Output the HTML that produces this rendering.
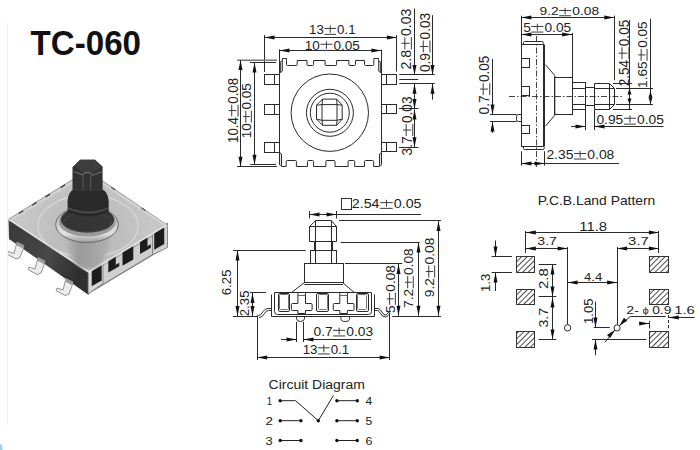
<!DOCTYPE html>
<html><head><meta charset="utf-8"><style>
html,body{margin:0;padding:0;background:#fff;}
svg{display:block;}
text{font-family:"Liberation Sans",sans-serif;}
</style></head><body>
<svg width="700" height="450" viewBox="0 0 700 450">
<rect width="700" height="450" fill="#fff"/>
<defs>
<linearGradient id="gTop" x1="0" y1="0" x2="0" y2="1">
 <stop offset="0" stop-color="#cdcdcd"/><stop offset="0.5" stop-color="#c2c2c2"/><stop offset="1" stop-color="#b9b9b9"/>
</linearGradient>
<linearGradient id="gLeft" x1="0" y1="0" x2="1" y2="0.3">
 <stop offset="0" stop-color="#3a3a3a"/><stop offset="0.6" stop-color="#474747"/><stop offset="1" stop-color="#2e2e2e"/>
</linearGradient>
<linearGradient id="gCyl" x1="0" y1="0" x2="1" y2="0">
 <stop offset="0" stop-color="#b4b4b4"/><stop offset="0.3" stop-color="#9a9a9a"/><stop offset="0.6" stop-color="#a2a2a2"/><stop offset="1" stop-color="#b0b0b0"/>
</linearGradient>
<linearGradient id="gRing" x1="0" y1="0" x2="0" y2="1">
 <stop offset="0" stop-color="#a8a8a8"/><stop offset="0.75" stop-color="#e2e2e2"/><stop offset="1" stop-color="#9a9a9a"/>
</linearGradient>
<radialGradient id="gTopR" cx="88" cy="235" r="90" gradientUnits="userSpaceOnUse">
 <stop offset="0" stop-color="#b4b4b4"/><stop offset="0.6" stop-color="#c4c4c4"/><stop offset="1" stop-color="#cbcbcb"/>
</radialGradient>
<filter id="soft" x="-5%" y="-5%" width="110%" height="110%"><feGaussianBlur stdDeviation="0.45"/></filter>
<filter id="soft2" x="-20%" y="-20%" width="140%" height="140%"><feGaussianBlur stdDeviation="1.5"/></filter>
</defs>
<g filter="url(#soft)">
<polygon points="8.5,219.2 88.7,272.0 88.7,295.0 9.0,239.0" fill="url(#gLeft)" stroke="none" stroke-width="1" />
<polygon points="88.7,272.0 167.0,224.9 167.0,247.0 88.7,293.0" fill="#cfcfcf" stroke="none" stroke-width="1" />
<polygon points="88.7,272.0 167.0,224.9 167.0,228.5 88.7,274.5" fill="#b0b0b0" stroke="none" stroke-width="1" />
<polygon points="115.3,265.0 119.3,262.7 119.3,266.2 115.3,268.5" fill="#1e1e1e" stroke="none" stroke-width="1" />
<polygon points="147.0,246.5 150.8,244.3 150.8,247.8 147.0,250.0" fill="#1e1e1e" stroke="none" stroke-width="1" />
<line x1="88.7" y1="293.2" x2="167" y2="246.1" stroke="#777" stroke-width="1.2"/>
<polygon points="88.2,270.0 103.0,260.7 103.0,283.2 88.2,294.0" fill="#d8d8d8" stroke="#777" stroke-width="0.8" />
<polygon points="152.5,231.8 167.5,223.1 167.5,247.5 152.5,254.8" fill="#d0d0d0" stroke="#777" stroke-width="0.8" />
<path d="M91.7,269.3 Q91.7,267.8 93.2,266.9 L100.2,262.8 Q101.7,261.9 101.7,263.4 L101.7,280.4 L91.7,286.3 Z" fill="#1e1e1e"/>
<path d="M108.3,260.6 Q108.3,259.1 109.8,258.2 L114.3,255.6 Q115.8,254.7 115.8,256.2 L115.8,268.2 L108.3,272.6 Z" fill="#1e1e1e"/>
<path d="M122.5,251.3 Q122.5,249.8 124.0,248.9 L131.8,244.4 Q133.3,243.5 133.3,245.0 L133.3,259.5 L122.5,265.8 Z" fill="#1e1e1e"/>
<path d="M140.0,242.1 Q140.0,240.6 141.5,239.7 L146.0,237.1 Q147.5,236.2 147.5,237.7 L147.5,249.7 L140.0,254.1 Z" fill="#1e1e1e"/>
<path d="M154.2,232.8 Q154.2,231.3 155.7,230.4 L162.7,226.4 Q164.2,225.5 164.2,227.0 L164.2,244.0 L154.2,249.8 Z" fill="#1e1e1e"/>
<polygon points="8.5,219.2 87.3,170.5 167.0,224.9 88.7,272.0" fill="url(#gTopR)" stroke="none" stroke-width="1" />
<polyline points="8.5,219.2 88.7,272 167,224.9" fill="none" stroke="#e6e6e6" stroke-width="1.6"/>
<polyline points="8.5,219.2 87.3,170.5 167,224.9" fill="none" stroke="#9a9a9a" stroke-width="1"/>
<polyline points="9.5,220.7 87.3,173.0" fill="none" stroke="#d2d2d2" stroke-width="2.2"/>
<polyline points="87.3,173.0 165.5,225.4" fill="none" stroke="#d4d4d4" stroke-width="2"/>
<line x1="18.7" y1="213.5" x2="23.2" y2="210.7" stroke="#3a3a3a" stroke-width="1.3"/>
<line x1="32.1" y1="205.2" x2="36.6" y2="202.4" stroke="#3a3a3a" stroke-width="1.3"/>
<line x1="45.5" y1="196.9" x2="50.0" y2="194.1" stroke="#3a3a3a" stroke-width="1.3"/>
<line x1="60.5" y1="187.7" x2="65.0" y2="184.9" stroke="#3a3a3a" stroke-width="1.3"/>
<line x1="111.2" y1="187.3" x2="115.2" y2="190.1" stroke="#555" stroke-width="1.2"/>
<line x1="141.5" y1="208.0" x2="145.5" y2="210.8" stroke="#555" stroke-width="1.2"/>
<ellipse cx="88" cy="226" rx="50" ry="31" fill="none" stroke="#d6d6d6" stroke-width="1.5"/>
<path d="M67,226 L67,246 Q70,258 78,266 Q88,272 98,266 Q106,258 109,246 L109,226 Z" fill="url(#gCyl)" filter="url(#soft2)"/>
<ellipse cx="87" cy="224.5" rx="31.3" ry="18" fill="url(#gRing)" stroke="#6a6a6a" stroke-width="1"/>
<ellipse cx="87.3" cy="222" rx="28.5" ry="14.5" fill="#9a9a9a"/>
<ellipse cx="87.5" cy="219.6" rx="26.7" ry="13" fill="#353535"/>
<ellipse cx="87.5" cy="222.5" rx="24" ry="9.5" fill="none" stroke="#4a4a4a" stroke-width="1.2" stroke-dasharray="1.5,1.5"/>
<path d="M67.6,212 L67.6,201 Q68.5,191 74,189.5 L102,189.5 Q107.5,191 108.7,201 L108.7,212 Q88,221 67.6,212 Z" fill="#2c2c2c"/>
<path d="M68,208 Q88,217 108.5,208" fill="none" stroke="#4e4e4e" stroke-width="1.5"/>
<path d="M72.5,191 L72.5,167 L74.6,165.3 L80.2,159.7 L94.9,159.7 L102.6,166.7 L102.6,191 Z" fill="#313131"/>
<path d="M74.6,165.3 L80.2,159.7 L94.9,159.7 L102.6,166.7 L92.1,174 L83,174 Z" fill="#3d3d3d"/>
<path d="M73.9,171.6 L83,175.1 L85.1,172.5 L89.3,172.5 L92.1,175.5 L102.6,171.5" fill="none" stroke="#777" stroke-width="1"/>
<path d="M83,175 L83,190 M90.7,175.5 L90.7,190" fill="none" stroke="#5a5a5a" stroke-width="1"/>
<path d="M17,242 l7,3.5 l-1,4 l-3,8 l-4,1.5 l-9,-5 l1,-2.5 l6,2 z" fill="#ececec" stroke="#7a7a7a" stroke-width="0.8"/>
<path d="M17,242 l7,3.5 l-1,3 l-7,-3.5 z" fill="#9a9a9a"/>
<path d="M38,257.5 l7,3.5 l-1,4 l-3,8 l-4,1.5 l-9,-5 l1,-2.5 l6,2 z" fill="#ececec" stroke="#7a7a7a" stroke-width="0.8"/>
<path d="M38,257.5 l7,3.5 l-1,3 l-7,-3.5 z" fill="#9a9a9a"/>
<path d="M66,278.5 l7,3.5 l-1,4 l-3,8 l-4,1.5 l-9,-5 l1,-2.5 l6,2 z" fill="#ececec" stroke="#7a7a7a" stroke-width="0.8"/>
<path d="M66,278.5 l7,3.5 l-1,3 l-7,-3.5 z" fill="#9a9a9a"/>
</g>
<g>
<ellipse cx="0" cy="449" rx="2.5" ry="5" fill="#9fd3ea"/>
<line x1="7.50" y1="22.00" x2="7.50" y2="425.00" stroke="#f6f4e8" stroke-width="1" />
<line x1="264.50" y1="37.50" x2="396.90" y2="37.50" stroke="#2a2a2a" stroke-width="1" />
<polygon points="264.50,37.50 274.50,35.50 274.50,39.50" fill="#111"/>
<polygon points="396.90,37.50 386.90,35.50 386.90,39.50" fill="#111"/>
<line x1="264.50" y1="35.00" x2="264.50" y2="72.00" stroke="#2a2a2a" stroke-width="1" />
<line x1="396.50" y1="35.00" x2="396.50" y2="71.50" stroke="#2a2a2a" stroke-width="1" />
<line x1="279.50" y1="50.50" x2="381.40" y2="50.50" stroke="#2a2a2a" stroke-width="1" />
<polygon points="279.50,50.50 289.50,48.50 289.50,52.50" fill="#111"/>
<polygon points="381.40,50.50 371.40,48.50 371.40,52.50" fill="#111"/>
<line x1="279.50" y1="49.30" x2="279.50" y2="62.00" stroke="#2a2a2a" stroke-width="1" />
<line x1="381.50" y1="49.60" x2="381.50" y2="62.00" stroke="#2a2a2a" stroke-width="1" />
<line x1="237.10" y1="60.20" x2="277.00" y2="60.20" stroke="#777" stroke-width="1.4" />
<line x1="250.00" y1="62.50" x2="276.00" y2="62.50" stroke="#2a2a2a" stroke-width="1" />
<line x1="237.10" y1="166.50" x2="277.00" y2="166.50" stroke="#2a2a2a" stroke-width="1" />
<line x1="250.30" y1="164.50" x2="276.00" y2="164.50" stroke="#2a2a2a" stroke-width="1" />
<line x1="240.50" y1="60.00" x2="240.50" y2="166.80" stroke="#2a2a2a" stroke-width="1" />
<polygon points="240.50,60.00 238.50,70.00 242.50,70.00" fill="#111"/>
<polygon points="240.50,166.80 238.50,156.80 242.50,156.80" fill="#111"/>
<line x1="254.50" y1="62.50" x2="254.50" y2="164.80" stroke="#2a2a2a" stroke-width="1" />
<polygon points="254.50,62.50 252.50,72.50 256.50,72.50" fill="#111"/>
<polygon points="254.50,164.80 252.50,154.80 256.50,154.80" fill="#111"/>
<rect x="264.50" y="74.50" width="15.00" height="10.00" rx="0" fill="none" stroke="#2a2a2a" stroke-width="1" />
<line x1="274.50" y1="74.50" x2="274.50" y2="84.50" stroke="#2a2a2a" stroke-width="1" />
<rect x="264.50" y="104.50" width="15.00" height="10.00" rx="0" fill="none" stroke="#2a2a2a" stroke-width="1" />
<line x1="274.50" y1="104.50" x2="274.50" y2="114.50" stroke="#2a2a2a" stroke-width="1" />
<rect x="264.50" y="142.50" width="15.00" height="10.00" rx="0" fill="none" stroke="#2a2a2a" stroke-width="1" />
<line x1="274.50" y1="142.50" x2="274.50" y2="152.50" stroke="#2a2a2a" stroke-width="1" />
<rect x="381.50" y="74.50" width="15.00" height="10.00" rx="0" fill="none" stroke="#2a2a2a" stroke-width="1" />
<line x1="386.50" y1="74.50" x2="386.50" y2="84.50" stroke="#2a2a2a" stroke-width="1" />
<rect x="381.50" y="104.50" width="15.00" height="9.00" rx="0" fill="none" stroke="#2a2a2a" stroke-width="1" />
<line x1="386.50" y1="104.50" x2="386.50" y2="113.50" stroke="#2a2a2a" stroke-width="1" />
<rect x="381.50" y="142.50" width="15.00" height="9.00" rx="0" fill="none" stroke="#2a2a2a" stroke-width="1" />
<line x1="386.50" y1="142.50" x2="386.50" y2="151.50" stroke="#2a2a2a" stroke-width="1" />
<line x1="279.50" y1="62.00" x2="279.50" y2="152.50" stroke="#2a2a2a" stroke-width="1" />
<line x1="381.50" y1="62.00" x2="381.50" y2="152.50" stroke="#2a2a2a" stroke-width="1" />
<path d="M280.3,72.5 L280.3,62.5 Q280.3,61.5 281.3,61.5 L282.3,61.5 L282.3,71.0 L280.3,73.0" fill="#e4e4e4" stroke="#2a2a2a" stroke-width="1" />
<path d="M282.3,61.5 L282.3,58.5 L286.5,58.5 L286.5,60.5" fill="none" stroke="#2a2a2a" stroke-width="1" />
<path d="M380.7,72.5 L380.7,62.5 Q380.7,61.5 379.7,61.5 L378.7,61.5 L378.7,71.0 L380.7,73.0" fill="#e4e4e4" stroke="#2a2a2a" stroke-width="1" />
<path d="M378.7,61.5 L378.7,58.5 L373.8,58.5 L373.8,60.5" fill="none" stroke="#2a2a2a" stroke-width="1" />
<path d="M279.5,152.5 L279.5,164.5 Q279.5,165.5 280.5,165.5 L281.5,165.5 L281.5,154.0 L279.5,152.5" fill="#e4e4e4" stroke="#2a2a2a" stroke-width="1" />
<path d="M281.5,165.5 L281.5,166.5 L286.2,166.5" fill="none" stroke="#2a2a2a" stroke-width="1" />
<path d="M381.5,152.5 L381.5,164.5 Q381.5,165.5 380.5,165.5 L379.5,165.5 L379.5,154.0 L381.5,152.5" fill="#e4e4e4" stroke="#2a2a2a" stroke-width="1" />
<path d="M379.5,165.5 L379.5,166.5 L373.6,166.5" fill="none" stroke="#2a2a2a" stroke-width="1" />
<path d="M286.5,60.5 L286.5,60.5 L286.5,64.5 Q286.5,65.5 287.5,65.5 L296.2,65.5 Q297.2,65.5 297.2,64.5 L297.2,60.5 L307.0,60.5 L307.0,64.5 Q307.0,65.5 308.0,65.5 L312.6,65.5 Q313.6,65.5 313.6,64.5 L313.6,60.5 L325.1,60.5 L325.1,64.5 Q325.1,65.5 326.1,65.5 L335.6,65.5 Q336.6,65.5 336.6,64.5 L336.6,60.5 L348.9,60.5 L348.9,64.5 Q348.9,65.5 349.9,65.5 L354.5,65.5 Q355.5,65.5 355.5,64.5 L355.5,60.5 L364.5,60.5 L364.5,64.5 Q364.5,65.5 365.5,65.5 L372.8,65.5 Q373.8,65.5 373.8,64.5 L373.8,60.5 L373.8,60.5" fill="none" stroke="#2a2a2a" stroke-width="1" />
<path d="M286.2,166.5 L286.2,166.5 L286.2,161.5 Q286.2,160.5 287.2,160.5 L295.4,160.5 Q296.4,160.5 296.4,161.5 L296.4,166.5 L307.5,166.5 L307.5,161.5 Q307.5,160.5 308.5,160.5 L312.6,160.5 Q313.6,160.5 313.6,161.5 L313.6,166.5 L325.9,166.5 L325.9,161.5 Q325.9,160.5 326.9,160.5 L334.0,160.5 Q335.0,160.5 335.0,161.5 L335.0,166.5 L348.1,166.5 L348.1,161.5 Q348.1,160.5 349.1,160.5 L353.7,160.5 Q354.7,160.5 354.7,161.5 L354.7,166.5 L364.5,166.5 L364.5,161.5 Q364.5,160.5 365.5,160.5 L372.6,160.5 Q373.6,160.5 373.6,161.5 L373.6,166.5 L373.6,166.5" fill="none" stroke="#2a2a2a" stroke-width="1" />
<circle cx="329.80" cy="112.70" r="38.70" fill="none" stroke="#2a2a2a" stroke-width="1"/>
<circle cx="329.90" cy="112.80" r="23.50" fill="none" stroke="#2a2a2a" stroke-width="1"/>
<circle cx="329.80" cy="112.70" r="19.50" fill="none" stroke="#2a2a2a" stroke-width="1"/>
<polygon points="322.6,99.1 336.7,99.1 342.2,105.2 342.2,119.2 336.7,125.3 322.6,125.3 316.5,119.2 316.5,105.2" fill="none" stroke="#2a2a2a" stroke-width="1"/>
<polygon points="322.0,104.6 337.0,104.6 337.0,120.3 322.0,120.3" fill="none" stroke="#2a2a2a" stroke-width="1"/>
<line x1="322.60" y1="99.10" x2="322.00" y2="104.60" stroke="#2a2a2a" stroke-width="1" />
<line x1="336.70" y1="99.10" x2="337.00" y2="104.60" stroke="#2a2a2a" stroke-width="1" />
<line x1="342.20" y1="105.20" x2="337.00" y2="104.60" stroke="#2a2a2a" stroke-width="1" />
<line x1="342.20" y1="119.20" x2="337.00" y2="120.30" stroke="#2a2a2a" stroke-width="1" />
<line x1="336.70" y1="125.30" x2="337.00" y2="120.30" stroke="#2a2a2a" stroke-width="1" />
<line x1="322.60" y1="125.30" x2="322.00" y2="120.30" stroke="#2a2a2a" stroke-width="1" />
<line x1="316.50" y1="119.20" x2="322.00" y2="120.30" stroke="#2a2a2a" stroke-width="1" />
<line x1="316.50" y1="105.20" x2="322.00" y2="104.60" stroke="#2a2a2a" stroke-width="1" />
<line x1="399.30" y1="74.50" x2="434.70" y2="74.50" stroke="#2a2a2a" stroke-width="1" />
<line x1="399.30" y1="79.50" x2="418.20" y2="79.50" stroke="#2a2a2a" stroke-width="1" />
<line x1="399.30" y1="83.50" x2="434.70" y2="83.50" stroke="#2a2a2a" stroke-width="1" />
<line x1="399.00" y1="108.50" x2="418.50" y2="108.50" stroke="#2a2a2a" stroke-width="1" />
<line x1="399.00" y1="147.50" x2="418.50" y2="147.50" stroke="#2a2a2a" stroke-width="1" />
<line x1="414.50" y1="8.70" x2="414.50" y2="74.90" stroke="#2a2a2a" stroke-width="1" />
<polygon points="414.50,74.90 412.50,64.90 416.50,64.90" fill="#111"/>
<line x1="414.50" y1="83.70" x2="414.50" y2="108.90" stroke="#2a2a2a" stroke-width="1" />
<polygon points="414.50,83.70 412.50,93.70 416.50,93.70" fill="#111"/>
<polygon points="414.50,108.90 412.50,98.90 416.50,98.90" fill="#111"/>
<line x1="414.50" y1="109.40" x2="414.50" y2="147.20" stroke="#2a2a2a" stroke-width="1" />
<polygon points="414.50,109.40 412.50,119.40 416.50,119.40" fill="#111"/>
<polygon points="414.50,147.20 412.50,137.20 416.50,137.20" fill="#111"/>
<line x1="432.50" y1="15.20" x2="432.50" y2="74.90" stroke="#2a2a2a" stroke-width="1" />
<polygon points="432.50,74.90 430.50,64.90 434.50,64.90" fill="#111"/>
<line x1="432.50" y1="83.70" x2="432.50" y2="99.70" stroke="#2a2a2a" stroke-width="1" />
<polygon points="432.50,83.70 430.50,93.70 434.50,93.70" fill="#111"/>
<line x1="521.40" y1="17.50" x2="614.30" y2="17.50" stroke="#2a2a2a" stroke-width="1" />
<polygon points="521.40,17.50 531.40,15.50 531.40,19.50" fill="#111"/>
<polygon points="614.30,17.50 604.30,15.50 604.30,19.50" fill="#111"/>
<line x1="521.50" y1="15.70" x2="521.50" y2="44.00" stroke="#2a2a2a" stroke-width="1" />
<line x1="614.50" y1="15.60" x2="614.50" y2="80.20" stroke="#2a2a2a" stroke-width="1" />
<line x1="521.40" y1="34.50" x2="572.10" y2="34.50" stroke="#2a2a2a" stroke-width="1" />
<polygon points="521.40,34.50 531.40,32.50 531.40,36.50" fill="#111"/>
<polygon points="572.10,34.50 562.10,32.50 562.10,36.50" fill="#111"/>
<line x1="572.50" y1="33.00" x2="572.50" y2="77.50" stroke="#2a2a2a" stroke-width="1" />
<line x1="536.50" y1="36.00" x2="536.50" y2="167.00" stroke="#444" stroke-width="1" stroke-dasharray="6,2,1.5,2"/>
<line x1="509.00" y1="96.50" x2="622.00" y2="96.50" stroke="#444" stroke-width="1" stroke-dasharray="6,2,1.5,2"/>
<rect x="521.50" y="44.50" width="22.00" height="102.00" rx="0" fill="none" stroke="#2a2a2a" stroke-width="1" />
<path d="M523.5,44.5 L523.5,42.5 Q523.5,41.5 524.5,41.5 L541.5,41.5 Q543.5,41.5 543.5,43.5" fill="none" stroke="#2a2a2a" stroke-width="1" />
<path d="M523.5,146.5 L523.5,148.5 Q523.5,149.5 524.5,149.5 L542.5,149.5 Q544.5,149.5 544.5,147.5" fill="none" stroke="#2a2a2a" stroke-width="1" />
<line x1="544.50" y1="44.50" x2="544.50" y2="146.50" stroke="#2a2a2a" stroke-width="1" />
<rect x="521.50" y="58.50" width="8.00" height="9.00" rx="0" fill="none" stroke="#2a2a2a" stroke-width="1" />
<rect x="521.50" y="86.50" width="8.00" height="9.00" rx="0" fill="none" stroke="#2a2a2a" stroke-width="1" />
<rect x="521.50" y="125.50" width="8.00" height="8.00" rx="0" fill="none" stroke="#2a2a2a" stroke-width="1" />
<path d="M521.5,114.5 L518.5,114.5 Q516.5,114.5 516.5,116.5 L516.5,119.5 Q516.5,121.5 518.5,121.5 L521.5,121.5" fill="none" stroke="#2a2a2a" stroke-width="1" />
<path d="M545.5,64.7 L554.8,75.6 L554.8,115.3 L545.5,126.1" fill="none" stroke="#2a2a2a" stroke-width="1" />
<rect x="554.50" y="77.50" width="18.00" height="37.00" rx="0" fill="none" stroke="#2a2a2a" stroke-width="1" />
<rect x="572.50" y="82.50" width="13.00" height="27.00" rx="0" fill="none" stroke="#2a2a2a" stroke-width="1" />
<line x1="572.40" y1="88.50" x2="585.60" y2="88.50" stroke="#2a2a2a" stroke-width="1" />
<line x1="572.40" y1="104.50" x2="585.60" y2="104.50" stroke="#2a2a2a" stroke-width="1" />
<rect x="585.50" y="87.50" width="9.00" height="18.00" rx="0" fill="none" stroke="#2a2a2a" stroke-width="1" />
<path d="M594.5,83.5 L609.5,83.5 L614.5,88.5 L614.5,104.5 L609.5,109.5 L594.5,109.5 Z" fill="none" stroke="#2a2a2a" stroke-width="1" />
<line x1="609.50" y1="83.50" x2="609.50" y2="109.50" stroke="#2a2a2a" stroke-width="1" />
<line x1="594.20" y1="88.50" x2="614.30" y2="88.50" stroke="#2a2a2a" stroke-width="1" />
<line x1="594.20" y1="104.50" x2="614.30" y2="104.50" stroke="#2a2a2a" stroke-width="1" />
<line x1="490.00" y1="114.50" x2="516.50" y2="114.50" stroke="#2a2a2a" stroke-width="1" />
<line x1="490.00" y1="121.50" x2="516.50" y2="121.50" stroke="#2a2a2a" stroke-width="1" />
<line x1="492.50" y1="59.00" x2="492.50" y2="114.40" stroke="#2a2a2a" stroke-width="1" />
<polygon points="492.50,114.50 490.50,104.50 494.50,104.50" fill="#111"/>
<line x1="492.50" y1="121.60" x2="492.50" y2="133.00" stroke="#2a2a2a" stroke-width="1" />
<polygon points="492.50,121.50 490.50,131.50 494.50,131.50" fill="#111"/>
<line x1="585.50" y1="110.00" x2="585.50" y2="130.00" stroke="#2a2a2a" stroke-width="1" />
<line x1="594.50" y1="110.00" x2="594.50" y2="130.00" stroke="#2a2a2a" stroke-width="1" />
<line x1="571.00" y1="126.50" x2="585.60" y2="126.50" stroke="#2a2a2a" stroke-width="1" />
<polygon points="585.50,126.50 575.50,124.50 575.50,128.50" fill="#111"/>
<line x1="594.20" y1="126.50" x2="663.50" y2="126.50" stroke="#2a2a2a" stroke-width="1" />
<polygon points="594.50,126.50 604.50,124.50 604.50,128.50" fill="#111"/>
<line x1="521.50" y1="151.30" x2="521.50" y2="165.70" stroke="#2a2a2a" stroke-width="1" />
<line x1="544.50" y1="151.30" x2="544.50" y2="165.70" stroke="#2a2a2a" stroke-width="1" />
<line x1="521.70" y1="163.50" x2="619.00" y2="163.50" stroke="#2a2a2a" stroke-width="1" />
<polygon points="521.50,163.50 531.50,161.50 531.50,165.50" fill="#111"/>
<polygon points="544.50,163.50 534.50,161.50 534.50,165.50" fill="#111"/>
<line x1="613.00" y1="83.50" x2="632.10" y2="83.50" stroke="#2a2a2a" stroke-width="1" />
<line x1="616.10" y1="88.50" x2="653.00" y2="88.50" stroke="#2a2a2a" stroke-width="1" />
<line x1="616.10" y1="104.50" x2="653.00" y2="104.50" stroke="#2a2a2a" stroke-width="1" />
<line x1="613.00" y1="109.50" x2="632.10" y2="109.50" stroke="#2a2a2a" stroke-width="1" />
<line x1="629.50" y1="20.00" x2="629.50" y2="109.20" stroke="#2a2a2a" stroke-width="1" />
<polygon points="629.50,88.60 627.50,94.60 631.50,94.60" fill="#111"/>
<polygon points="629.50,104.40 627.50,98.40 631.50,98.40" fill="#111"/>
<line x1="650.50" y1="18.70" x2="650.50" y2="104.20" stroke="#2a2a2a" stroke-width="1" />
<polygon points="650.50,91.50 648.50,97.50 652.50,97.50" fill="#111"/>
<polygon points="650.50,103.50 648.50,97.50 652.50,97.50" fill="#111"/>
<rect x="341.50" y="198.50" width="10.00" height="11.00" rx="0" fill="none" stroke="#333" stroke-width="1" />
<line x1="309.60" y1="214.50" x2="421.00" y2="214.50" stroke="#2a2a2a" stroke-width="1" />
<polygon points="309.50,214.50 319.50,212.50 319.50,216.50" fill="#111"/>
<polygon points="336.50,214.50 326.50,212.50 326.50,216.50" fill="#111"/>
<line x1="309.50" y1="211.00" x2="309.50" y2="218.50" stroke="#2a2a2a" stroke-width="1" />
<line x1="336.50" y1="211.00" x2="336.50" y2="218.50" stroke="#2a2a2a" stroke-width="1" />
<path d="M315.7,220.5 L331.3,220.5 L336.5,226.5 L336.5,241.5 L309.5,241.5 L309.5,226.5 Z" fill="none" stroke="#2a2a2a" stroke-width="1" />
<line x1="309.60" y1="226.50" x2="336.70" y2="226.50" stroke="#2a2a2a" stroke-width="1" />
<line x1="315.50" y1="220.50" x2="315.50" y2="263.30" stroke="#2a2a2a" stroke-width="1" />
<line x1="331.50" y1="220.50" x2="331.50" y2="263.30" stroke="#2a2a2a" stroke-width="1" />
<rect x="314.50" y="241.50" width="18.00" height="9.00" rx="0" fill="none" stroke="#2a2a2a" stroke-width="1" />
<rect x="310.50" y="250.50" width="26.00" height="13.00" rx="0" fill="none" stroke="#2a2a2a" stroke-width="1" />
<rect x="304.50" y="263.50" width="39.00" height="19.00" rx="0" fill="none" stroke="#2a2a2a" stroke-width="1" />
<line x1="304.40" y1="284.50" x2="343.00" y2="284.50" stroke="#2a2a2a" stroke-width="1" />
<path d="M304.5,282.5 L291.5,292.5" fill="none" stroke="#2a2a2a" stroke-width="1" />
<path d="M342.5,282.5 L354.3,292.5" fill="none" stroke="#2a2a2a" stroke-width="1" />
<line x1="274.50" y1="292.50" x2="371.20" y2="292.50" stroke="#2a2a2a" stroke-width="1" />
<path d="M274.5,292.5 L274.5,311.5 Q274.5,314.5 277.5,314.5 L368.5,314.5 Q371.5,314.5 371.5,311.5 L371.5,292.5" fill="none" stroke="#2a2a2a" stroke-width="1" />
<path d="M271.5,294.5 L271.5,316.5 L374.5,316.5 L374.5,294.5" fill="none" stroke="#2a2a2a" stroke-width="1" />
<rect x="278.50" y="293.50" width="11.00" height="18.00" rx="1.5" fill="none" stroke="#2a2a2a" stroke-width="1" />
<rect x="279.50" y="294.50" width="9.00" height="15.00" rx="1" fill="none" stroke="#777" stroke-width="1" />
<rect x="316.50" y="293.50" width="12.00" height="18.00" rx="1.5" fill="none" stroke="#2a2a2a" stroke-width="1" />
<rect x="318.50" y="294.50" width="9.00" height="15.00" rx="1" fill="none" stroke="#777" stroke-width="1" />
<rect x="356.50" y="293.50" width="12.00" height="18.00" rx="1.5" fill="none" stroke="#2a2a2a" stroke-width="1" />
<rect x="357.50" y="294.50" width="9.00" height="15.00" rx="1" fill="none" stroke="#777" stroke-width="1" />
<path d="M297.9,292.5 L297.9,303.5 L292.4,303.5 Q291.4,303.5 291.4,304.5 L291.4,309.5 Q291.4,310.5 292.4,310.5 L297.9,310.5 L297.9,313.5 L305.5,313.5 L305.5,310.5 L311.1,310.5 Q312.1,310.5 312.1,309.5 L312.1,304.5 Q312.1,303.5 311.1,303.5 L305.5,303.5 L305.5,292.5" fill="none" stroke="#2a2a2a" stroke-width="1" />
<line x1="297.90" y1="295.50" x2="305.50" y2="295.50" stroke="#666" stroke-width="1" />
<path d="M339.8,292.5 L339.8,303.5 L334.3,303.5 Q333.3,303.5 333.3,304.5 L333.3,309.5 Q333.3,310.5 334.3,310.5 L339.8,310.5 L339.8,313.5 L347.4,313.5 L347.4,310.5 L353.0,310.5 Q354.0,310.5 354.0,309.5 L354.0,304.5 Q354.0,303.5 353.0,303.5 L347.4,303.5 L347.4,292.5" fill="none" stroke="#2a2a2a" stroke-width="1" />
<line x1="339.80" y1="295.50" x2="347.40" y2="295.50" stroke="#666" stroke-width="1" />
<path d="M296.5,316.5 L296.5,318.5 Q296.5,321.5 300.5,321.5 Q304.5,321.5 304.5,318.5 L304.5,316.5" fill="none" stroke="#2a2a2a" stroke-width="1" />
<path d="M340.9,316.5 L340.9,318.5 Q340.9,321.5 345.2,321.5 Q349.5,321.5 349.5,318.5 L349.5,316.5" fill="none" stroke="#2a2a2a" stroke-width="1" />
<path d="M271.5,308.5 L268,308.5 Q265,308.5 263,311.5 Q261,315.5 258.5,315.5 L257,316" fill="none" stroke="#2a2a2a" stroke-width="1" />
<path d="M271.5,310.5 L268.5,310.5 Q266,310.5 264.5,313.5 Q262.5,317.5 259,317.5" fill="none" stroke="#2a2a2a" stroke-width="1" />
<path d="M374.5,308.5 L378,308.5 Q380,308.5 382,312 Q384,316 386,315 Q388,313 389.5,311.5" fill="none" stroke="#2a2a2a" stroke-width="1" />
<path d="M374.5,310.5 L377.5,310.5 Q379,310.5 380.5,313.5 Q382.5,317.5 386,317 Q388.5,315.5 390,313.5" fill="none" stroke="#2a2a2a" stroke-width="1" />
<line x1="339.00" y1="220.50" x2="441.00" y2="220.50" stroke="#2a2a2a" stroke-width="1" />
<line x1="340.70" y1="242.50" x2="419.70" y2="242.50" stroke="#2a2a2a" stroke-width="1" />
<line x1="345.00" y1="263.50" x2="402.30" y2="263.50" stroke="#2a2a2a" stroke-width="1" />
<line x1="392.20" y1="316.50" x2="441.00" y2="316.50" stroke="#2a2a2a" stroke-width="1" />
<line x1="398.50" y1="264.00" x2="398.50" y2="315.80" stroke="#2a2a2a" stroke-width="1" />
<polygon points="398.50,264.00 396.50,274.00 400.50,274.00" fill="#111"/>
<polygon points="398.50,315.80 396.50,305.80 400.50,305.80" fill="#111"/>
<line x1="418.50" y1="242.50" x2="418.50" y2="315.80" stroke="#2a2a2a" stroke-width="1" />
<polygon points="418.50,242.50 416.50,252.50 420.50,252.50" fill="#111"/>
<polygon points="418.50,315.80 416.50,305.80 420.50,305.80" fill="#111"/>
<line x1="438.50" y1="221.00" x2="438.50" y2="315.80" stroke="#2a2a2a" stroke-width="1" />
<polygon points="438.50,221.00 436.50,231.00 440.50,231.00" fill="#111"/>
<polygon points="438.50,315.80 436.50,305.80 440.50,305.80" fill="#111"/>
<line x1="233.00" y1="250.50" x2="305.70" y2="250.50" stroke="#2a2a2a" stroke-width="1" />
<line x1="250.00" y1="292.50" x2="266.00" y2="292.50" stroke="#2a2a2a" stroke-width="1" />
<line x1="233.00" y1="316.50" x2="258.00" y2="316.50" stroke="#2a2a2a" stroke-width="1" />
<line x1="237.50" y1="250.50" x2="237.50" y2="316.00" stroke="#2a2a2a" stroke-width="1" />
<polygon points="237.50,250.50 235.50,260.50 239.50,260.50" fill="#111"/>
<polygon points="237.50,316.00 235.50,306.00 239.50,306.00" fill="#111"/>
<line x1="252.50" y1="292.90" x2="252.50" y2="316.00" stroke="#2a2a2a" stroke-width="1" />
<polygon points="252.50,292.90 250.50,302.90 254.50,302.90" fill="#111"/>
<polygon points="252.50,316.00 250.50,306.00 254.50,306.00" fill="#111"/>
<line x1="257.50" y1="316.00" x2="257.50" y2="360.00" stroke="#2a2a2a" stroke-width="1" />
<line x1="389.50" y1="312.50" x2="389.50" y2="360.00" stroke="#2a2a2a" stroke-width="1" />
<line x1="257.20" y1="357.50" x2="389.70" y2="357.50" stroke="#2a2a2a" stroke-width="1" />
<polygon points="257.20,357.50 267.20,355.50 267.20,359.50" fill="#111"/>
<polygon points="389.70,357.50 379.70,355.50 379.70,359.50" fill="#111"/>
<line x1="296.50" y1="322.00" x2="296.50" y2="342.00" stroke="#2a2a2a" stroke-width="1" />
<line x1="303.50" y1="322.00" x2="303.50" y2="342.00" stroke="#2a2a2a" stroke-width="1" />
<line x1="281.00" y1="339.50" x2="296.70" y2="339.50" stroke="#2a2a2a" stroke-width="1" />
<polygon points="296.50,339.50 286.50,337.50 286.50,341.50" fill="#111"/>
<line x1="303.10" y1="339.50" x2="371.00" y2="339.50" stroke="#2a2a2a" stroke-width="1" />
<polygon points="303.50,339.50 313.50,337.50 313.50,341.50" fill="#111"/>
<line x1="525.80" y1="232.50" x2="658.90" y2="232.50" stroke="#2a2a2a" stroke-width="1" />
<polygon points="525.80,232.50 535.80,230.50 535.80,234.50" fill="#111"/>
<polygon points="658.90,232.50 648.90,230.50 648.90,234.50" fill="#111"/>
<line x1="525.50" y1="231.00" x2="525.50" y2="253.00" stroke="#2a2a2a" stroke-width="1" />
<line x1="658.50" y1="231.00" x2="658.50" y2="253.00" stroke="#2a2a2a" stroke-width="1" />
<line x1="525.80" y1="248.50" x2="567.60" y2="248.50" stroke="#2a2a2a" stroke-width="1" />
<polygon points="525.80,248.50 535.80,246.50 535.80,250.50" fill="#111"/>
<polygon points="567.60,248.50 557.60,246.50 557.60,250.50" fill="#111"/>
<line x1="617.10" y1="248.50" x2="658.90" y2="248.50" stroke="#2a2a2a" stroke-width="1" />
<polygon points="617.10,248.50 627.10,246.50 627.10,250.50" fill="#111"/>
<polygon points="658.90,248.50 648.90,246.50 648.90,250.50" fill="#111"/>
<line x1="567.50" y1="247.00" x2="567.50" y2="324.40" stroke="#2a2a2a" stroke-width="1" />
<line x1="617.50" y1="247.00" x2="617.50" y2="324.80" stroke="#2a2a2a" stroke-width="1" />
<defs><pattern id="hatch" patternUnits="userSpaceOnUse" width="3.9" height="3.9" patternTransform="rotate(45)"><rect width="3.9" height="3.9" fill="#fff"/><line x1="0.5" y1="0" x2="0.5" y2="3.9" stroke="#4a4a4a" stroke-width="1"/></pattern></defs>
<rect x="516.50" y="256.50" width="18.00" height="16.00" rx="0" fill="url(#hatch)" stroke="#333" stroke-width="1" />
<rect x="516.50" y="289.50" width="18.00" height="15.00" rx="0" fill="url(#hatch)" stroke="#333" stroke-width="1" />
<rect x="516.50" y="331.50" width="18.00" height="16.00" rx="0" fill="url(#hatch)" stroke="#333" stroke-width="1" />
<rect x="649.50" y="256.50" width="19.00" height="16.00" rx="0" fill="url(#hatch)" stroke="#333" stroke-width="1" />
<rect x="649.50" y="289.50" width="19.00" height="15.00" rx="0" fill="url(#hatch)" stroke="#333" stroke-width="1" />
<rect x="649.50" y="331.50" width="19.00" height="16.00" rx="0" fill="url(#hatch)" stroke="#333" stroke-width="1" />
<line x1="491.60" y1="256.50" x2="512.00" y2="256.50" stroke="#2a2a2a" stroke-width="1" />
<line x1="491.60" y1="272.50" x2="512.00" y2="272.50" stroke="#2a2a2a" stroke-width="1" />
<line x1="495.50" y1="240.40" x2="495.50" y2="256.40" stroke="#2a2a2a" stroke-width="1" />
<polygon points="495.50,256.50 493.50,246.50 497.50,246.50" fill="#111"/>
<line x1="495.50" y1="272.40" x2="495.50" y2="291.00" stroke="#2a2a2a" stroke-width="1" />
<polygon points="495.50,272.50 493.50,282.50 497.50,282.50" fill="#111"/>
<line x1="538.60" y1="264.50" x2="556.40" y2="264.50" stroke="#2a2a2a" stroke-width="1" />
<line x1="538.60" y1="296.50" x2="556.40" y2="296.50" stroke="#2a2a2a" stroke-width="1" />
<line x1="538.60" y1="339.50" x2="556.40" y2="339.50" stroke="#2a2a2a" stroke-width="1" />
<line x1="552.50" y1="264.10" x2="552.50" y2="339.00" stroke="#2a2a2a" stroke-width="1" />
<polygon points="552.50,264.50 550.50,274.50 554.50,274.50" fill="#111"/>
<polygon points="552.50,296.50 550.50,286.50 554.50,286.50" fill="#111"/>
<polygon points="552.50,297.50 550.50,307.50 554.50,307.50" fill="#111"/>
<polygon points="552.50,339.50 550.50,329.50 554.50,329.50" fill="#111"/>
<line x1="567.60" y1="282.50" x2="617.10" y2="282.50" stroke="#2a2a2a" stroke-width="1" />
<polygon points="567.60,282.50 577.60,280.50 577.60,284.50" fill="#111"/>
<polygon points="617.10,282.50 607.10,280.50 607.10,284.50" fill="#111"/>
<circle cx="567.60" cy="327.80" r="3.20" fill="#fff" stroke="#2a2a2a" stroke-width="1"/>
<circle cx="617.10" cy="327.90" r="3.10" fill="#fff" stroke="#2a2a2a" stroke-width="1"/>
<line x1="595.50" y1="301.60" x2="595.50" y2="327.50" stroke="#2a2a2a" stroke-width="1" />
<polygon points="595.50,327.50 593.50,317.50 597.50,317.50" fill="#111"/>
<line x1="593.70" y1="327.50" x2="609.80" y2="327.50" stroke="#2a2a2a" stroke-width="1" />
<line x1="592.00" y1="339.50" x2="646.40" y2="339.50" stroke="#2a2a2a" stroke-width="1" />
<line x1="595.50" y1="339.20" x2="595.50" y2="355.20" stroke="#2a2a2a" stroke-width="1" />
<polygon points="595.50,339.50 593.50,349.50 597.50,349.50" fill="#111"/>
<line x1="604.80" y1="342.40" x2="614.90" y2="330.10" stroke="#2a2a2a" stroke-width="1" />
<line x1="619.30" y1="325.70" x2="630.40" y2="316.50" stroke="#2a2a2a" stroke-width="1" />
<line x1="630.40" y1="316.50" x2="665.70" y2="316.50" stroke="#2a2a2a" stroke-width="1" />
<polygon points="619.3,325.7 627.2,320.8 624.0,317.8" fill="#111"/>
<polygon points="614.9,330.1 610.2,338.0 607.0,335.0" fill="#111"/>
<circle cx="645.70" cy="311.30" r="2.30" fill="none" stroke="#555" stroke-width="1.1"/>
<line x1="645.70" y1="307.20" x2="645.70" y2="315.20" stroke="#555" stroke-width="1.1" />
<line x1="668.75" y1="317.50" x2="694.60" y2="317.50" stroke="#2a2a2a" stroke-width="1" />
<polygon points="668.75,317.50 678.75,315.50 678.75,319.50" fill="#111"/>
<line x1="640.20" y1="323.50" x2="649.10" y2="323.50" stroke="#2a2a2a" stroke-width="1" />
<polygon points="649.10,323.50 639.10,321.50 639.10,325.50" fill="#111"/>
<line x1="649.50" y1="321.20" x2="649.50" y2="328.40" stroke="#2a2a2a" stroke-width="1" />
<line x1="668.50" y1="315.00" x2="668.50" y2="328.40" stroke="#2a2a2a" stroke-width="1" stroke-dasharray="3,2"/>
<path d="M280.2,400.7 L295.6,400.7 L318.3,420.7 L333.5,395.3" fill="none" stroke="#222" stroke-width="1" />
<line x1="280.20" y1="420.70" x2="300.90" y2="420.70" stroke="#222" stroke-width="1" />
<line x1="280.20" y1="440.50" x2="300.90" y2="440.50" stroke="#222" stroke-width="1" />
<line x1="336.90" y1="400.70" x2="357.30" y2="400.70" stroke="#222" stroke-width="1" />
<line x1="336.90" y1="420.70" x2="357.30" y2="420.70" stroke="#222" stroke-width="1" />
<line x1="336.90" y1="440.50" x2="357.30" y2="440.50" stroke="#222" stroke-width="1" />
<circle cx="280.20" cy="400.70" r="1.7" fill="#111"/>
<circle cx="280.20" cy="420.70" r="1.7" fill="#111"/>
<circle cx="300.90" cy="420.70" r="1.7" fill="#111"/>
<circle cx="280.20" cy="440.50" r="1.7" fill="#111"/>
<circle cx="300.90" cy="440.50" r="1.7" fill="#111"/>
<circle cx="318.30" cy="420.70" r="1.7" fill="#111"/>
<circle cx="336.90" cy="400.70" r="1.7" fill="#111"/>
<circle cx="357.30" cy="400.70" r="1.7" fill="#111"/>
<circle cx="336.90" cy="420.70" r="1.7" fill="#111"/>
<circle cx="357.30" cy="420.70" r="1.7" fill="#111"/>
<circle cx="336.90" cy="440.50" r="1.7" fill="#111"/>
<circle cx="357.30" cy="440.50" r="1.7" fill="#111"/>
</g>
<g>
<text transform="translate(30.57,55.20) scale(0.966,1)" font-size="34.29" font-weight="bold" fill="#111">TC-060</text>
<text transform="translate(309.10,33.90) scale(1.022,1)" font-size="13.00" fill="#222">13</text>
<text transform="translate(337.10,33.90) scale(1.022,1)" font-size="13.00" fill="#222">0.1</text>
<line x1="324.43" y1="28.44" x2="336.05" y2="28.44" stroke="#3a3a3a" stroke-width="1"/>
<line x1="330.24" y1="25.53" x2="330.24" y2="32.81" stroke="#3a3a3a" stroke-width="1"/>
<line x1="324.43" y1="34.35" x2="336.05" y2="34.35" stroke="#3a3a3a" stroke-width="1"/>
<text transform="translate(304.78,49.90) scale(1.009,1)" font-size="13.43" fill="#222">10</text>
<text transform="translate(333.40,49.90) scale(1.009,1)" font-size="13.43" fill="#222">0.05</text>
<line x1="320.48" y1="44.26" x2="332.33" y2="44.26" stroke="#3a3a3a" stroke-width="1"/>
<line x1="326.41" y1="41.25" x2="326.41" y2="48.77" stroke="#3a3a3a" stroke-width="1"/>
<line x1="320.48" y1="50.35" x2="332.33" y2="50.35" stroke="#3a3a3a" stroke-width="1"/>
<text transform="translate(237.60,142.90) rotate(-90) scale(0.948,1)" font-size="14.00" fill="#222">10.4</text>
<text transform="translate(237.60,103.69) rotate(-90) scale(0.948,1)" font-size="14.00" fill="#222">0.08</text>
<line x1="231.72" y1="116.36" x2="231.72" y2="104.74" stroke="#3a3a3a" stroke-width="1"/>
<line x1="228.58" y1="110.55" x2="236.42" y2="110.55" stroke="#3a3a3a" stroke-width="1"/>
<line x1="238.05" y1="116.36" x2="238.05" y2="104.74" stroke="#3a3a3a" stroke-width="1"/>
<text transform="translate(250.90,138.22) rotate(-90) scale(1.115,1)" font-size="12.14" fill="#222">10</text>
<text transform="translate(250.90,109.60) rotate(-90) scale(1.115,1)" font-size="12.14" fill="#222">0.05</text>
<line x1="245.80" y1="122.52" x2="245.80" y2="110.67" stroke="#3a3a3a" stroke-width="1"/>
<line x1="243.08" y1="116.59" x2="249.88" y2="116.59" stroke="#3a3a3a" stroke-width="1"/>
<line x1="251.35" y1="122.52" x2="251.35" y2="110.67" stroke="#3a3a3a" stroke-width="1"/>
<text transform="translate(410.90,69.50) rotate(-90) scale(0.973,1)" font-size="14.43" fill="#222">2.8</text>
<text transform="translate(410.90,36.06) rotate(-90) scale(0.973,1)" font-size="14.43" fill="#222">0.03</text>
<line x1="404.84" y1="49.45" x2="404.84" y2="37.17" stroke="#3a3a3a" stroke-width="1"/>
<line x1="401.61" y1="43.31" x2="409.69" y2="43.31" stroke="#3a3a3a" stroke-width="1"/>
<line x1="411.35" y1="49.45" x2="411.35" y2="37.17" stroke="#3a3a3a" stroke-width="1"/>
<text transform="translate(429.50,72.05) rotate(-90) scale(0.922,1)" font-size="14.86" fill="#222">0.9</text>
<text transform="translate(429.50,39.42) rotate(-90) scale(0.922,1)" font-size="14.86" fill="#222">0.03</text>
<line x1="423.26" y1="52.48" x2="423.26" y2="40.50" stroke="#3a3a3a" stroke-width="1"/>
<line x1="419.93" y1="46.49" x2="428.25" y2="46.49" stroke="#3a3a3a" stroke-width="1"/>
<line x1="429.95" y1="52.48" x2="429.95" y2="40.50" stroke="#3a3a3a" stroke-width="1"/>
<text transform="translate(412.30,155.45) rotate(-90) scale(0.936,1)" font-size="14.57" fill="#222">3.7</text>
<text transform="translate(412.30,123.01) rotate(-90) scale(0.936,1)" font-size="14.57" fill="#222">0.03</text>
<line x1="406.18" y1="136.02" x2="406.18" y2="124.09" stroke="#3a3a3a" stroke-width="1"/>
<line x1="402.92" y1="130.06" x2="411.08" y2="130.06" stroke="#3a3a3a" stroke-width="1"/>
<line x1="412.75" y1="136.02" x2="412.75" y2="124.09" stroke="#3a3a3a" stroke-width="1"/>
<text transform="translate(539.48,15.30) scale(1.191,1)" font-size="11.57" fill="#222">9.2</text>
<text transform="translate(572.25,15.30) scale(1.191,1)" font-size="11.57" fill="#222">0.08</text>
<line x1="559.10" y1="10.44" x2="571.16" y2="10.44" stroke="#3a3a3a" stroke-width="1"/>
<line x1="565.13" y1="7.85" x2="565.13" y2="14.33" stroke="#3a3a3a" stroke-width="1"/>
<line x1="559.10" y1="15.75" x2="571.16" y2="15.75" stroke="#3a3a3a" stroke-width="1"/>
<text transform="translate(523.15,31.60) scale(1.117,1)" font-size="12.29" fill="#222">5</text>
<text transform="translate(544.46,31.60) scale(1.117,1)" font-size="12.29" fill="#222">0.05</text>
<line x1="531.37" y1="26.44" x2="543.38" y2="26.44" stroke="#3a3a3a" stroke-width="1"/>
<line x1="537.37" y1="23.69" x2="537.37" y2="30.57" stroke="#3a3a3a" stroke-width="1"/>
<line x1="531.37" y1="32.05" x2="543.38" y2="32.05" stroke="#3a3a3a" stroke-width="1"/>
<text transform="translate(489.30,114.44) rotate(-90) scale(0.935,1)" font-size="14.57" fill="#222">0.7</text>
<text transform="translate(489.30,82.05) rotate(-90) scale(0.935,1)" font-size="14.57" fill="#222">0.05</text>
<line x1="483.18" y1="95.05" x2="483.18" y2="83.13" stroke="#3a3a3a" stroke-width="1"/>
<line x1="479.92" y1="89.09" x2="488.08" y2="89.09" stroke="#3a3a3a" stroke-width="1"/>
<line x1="489.75" y1="95.05" x2="489.75" y2="83.13" stroke="#3a3a3a" stroke-width="1"/>
<text transform="translate(596.45,123.70) scale(1.062,1)" font-size="13.00" fill="#222">0.95</text>
<text transform="translate(637.09,123.70) scale(1.062,1)" font-size="13.00" fill="#222">0.05</text>
<line x1="623.92" y1="118.24" x2="636.00" y2="118.24" stroke="#3a3a3a" stroke-width="1"/>
<line x1="629.96" y1="115.33" x2="629.96" y2="122.61" stroke="#3a3a3a" stroke-width="1"/>
<line x1="623.92" y1="124.15" x2="636.00" y2="124.15" stroke="#3a3a3a" stroke-width="1"/>
<text transform="translate(546.40,158.60) scale(1.158,1)" font-size="12.00" fill="#222">2.35</text>
<text transform="translate(587.32,158.60) scale(1.158,1)" font-size="12.00" fill="#222">0.08</text>
<line x1="574.06" y1="153.56" x2="586.22" y2="153.56" stroke="#3a3a3a" stroke-width="1"/>
<line x1="580.14" y1="150.87" x2="580.14" y2="157.59" stroke="#3a3a3a" stroke-width="1"/>
<line x1="574.06" y1="159.05" x2="586.22" y2="159.05" stroke="#3a3a3a" stroke-width="1"/>
<text transform="translate(628.50,86.28) rotate(-90) scale(0.872,1)" font-size="15.57" fill="#222">2.54</text>
<text transform="translate(628.50,46.17) rotate(-90) scale(0.872,1)" font-size="15.57" fill="#222">0.05</text>
<line x1="621.96" y1="59.13" x2="621.96" y2="47.25" stroke="#3a3a3a" stroke-width="1"/>
<line x1="618.47" y1="53.19" x2="627.19" y2="53.19" stroke="#3a3a3a" stroke-width="1"/>
<line x1="628.95" y1="59.13" x2="628.95" y2="47.25" stroke="#3a3a3a" stroke-width="1"/>
<text transform="translate(646.60,87.92) rotate(-90) scale(1.048,1)" font-size="13.00" fill="#222">1.65</text>
<text transform="translate(646.60,47.84) rotate(-90) scale(1.048,1)" font-size="13.00" fill="#222">0.05</text>
<line x1="641.14" y1="60.83" x2="641.14" y2="48.92" stroke="#3a3a3a" stroke-width="1"/>
<line x1="638.23" y1="54.88" x2="645.51" y2="54.88" stroke="#3a3a3a" stroke-width="1"/>
<line x1="647.05" y1="60.83" x2="647.05" y2="48.92" stroke="#3a3a3a" stroke-width="1"/>
<text transform="translate(351.79,207.90) scale(1.132,1)" font-size="12.57" fill="#222">2.54</text>
<text transform="translate(393.80,207.90) scale(1.132,1)" font-size="12.57" fill="#222">0.05</text>
<line x1="380.23" y1="202.62" x2="392.68" y2="202.62" stroke="#3a3a3a" stroke-width="1"/>
<line x1="386.45" y1="199.80" x2="386.45" y2="206.84" stroke="#3a3a3a" stroke-width="1"/>
<line x1="380.23" y1="208.35" x2="392.68" y2="208.35" stroke="#3a3a3a" stroke-width="1"/>
<text transform="translate(394.90,313.05) rotate(-90) scale(1.091,1)" font-size="12.57" fill="#222">5</text>
<text transform="translate(394.90,291.74) rotate(-90) scale(1.091,1)" font-size="12.57" fill="#222">0.08</text>
<line x1="389.62" y1="304.83" x2="389.62" y2="292.82" stroke="#3a3a3a" stroke-width="1"/>
<line x1="386.80" y1="298.83" x2="393.84" y2="298.83" stroke="#3a3a3a" stroke-width="1"/>
<line x1="395.35" y1="304.83" x2="395.35" y2="292.82" stroke="#3a3a3a" stroke-width="1"/>
<text transform="translate(412.80,307.89) rotate(-90) scale(1.136,1)" font-size="12.14" fill="#222">7.2</text>
<text transform="translate(412.80,275.08) rotate(-90) scale(1.136,1)" font-size="12.14" fill="#222">0.08</text>
<line x1="407.70" y1="288.24" x2="407.70" y2="276.17" stroke="#3a3a3a" stroke-width="1"/>
<line x1="404.98" y1="282.21" x2="411.78" y2="282.21" stroke="#3a3a3a" stroke-width="1"/>
<line x1="413.25" y1="288.24" x2="413.25" y2="276.17" stroke="#3a3a3a" stroke-width="1"/>
<text transform="translate(434.20,297.22) rotate(-90) scale(1.062,1)" font-size="13.00" fill="#222">9.2</text>
<text transform="translate(434.20,264.40) rotate(-90) scale(1.062,1)" font-size="13.00" fill="#222">0.08</text>
<line x1="428.74" y1="277.56" x2="428.74" y2="265.49" stroke="#3a3a3a" stroke-width="1"/>
<line x1="425.83" y1="271.53" x2="433.11" y2="271.53" stroke="#3a3a3a" stroke-width="1"/>
<line x1="434.65" y1="277.56" x2="434.65" y2="265.49" stroke="#3a3a3a" stroke-width="1"/>
<text transform="translate(231.10,295.27) rotate(-90) scale(1.071,1)" font-size="12.43" fill="#222">6.25</text>
<text transform="translate(248.70,316.27) rotate(-90) scale(1.024,1)" font-size="13.00" fill="#222">2.35</text>
<text transform="translate(302.70,353.50) scale(0.979,1)" font-size="13.57" fill="#222">13</text>
<text transform="translate(330.70,353.50) scale(0.979,1)" font-size="13.57" fill="#222">0.1</text>
<line x1="318.03" y1="347.80" x2="329.65" y2="347.80" stroke="#3a3a3a" stroke-width="1"/>
<line x1="323.84" y1="344.76" x2="323.84" y2="352.36" stroke="#3a3a3a" stroke-width="1"/>
<line x1="318.03" y1="353.95" x2="329.65" y2="353.95" stroke="#3a3a3a" stroke-width="1"/>
<text transform="translate(313.45,335.50) scale(1.124,1)" font-size="12.29" fill="#222">0.7</text>
<text transform="translate(346.27,335.50) scale(1.124,1)" font-size="12.29" fill="#222">0.03</text>
<line x1="333.10" y1="330.34" x2="345.18" y2="330.34" stroke="#3a3a3a" stroke-width="1"/>
<line x1="339.14" y1="327.59" x2="339.14" y2="334.47" stroke="#3a3a3a" stroke-width="1"/>
<line x1="333.10" y1="335.95" x2="345.18" y2="335.95" stroke="#3a3a3a" stroke-width="1"/>
<text transform="translate(537.69,204.80) scale(1.105,1)" font-size="12.55" fill="#222">P.C.B.Land Pattern</text>
<text transform="translate(579.28,231.00) scale(1.170,1)" font-size="12.71" fill="#222">11.8</text>
<text transform="translate(537.33,245.10) scale(1.223,1)" font-size="11.57" fill="#222">3.7</text>
<text transform="translate(628.10,245.00) scale(1.339,1)" font-size="11.14" fill="#222">3.7</text>
<text transform="translate(489.70,291.99) rotate(-90) scale(0.990,1)" font-size="13.29" fill="#222">1.3</text>
<text transform="translate(548.30,289.05) rotate(-90) scale(1.199,1)" font-size="12.43" fill="#222">2.8</text>
<text transform="translate(548.30,327.57) rotate(-90) scale(1.145,1)" font-size="12.43" fill="#222">3.7</text>
<text transform="translate(584.04,280.50) scale(1.177,1)" font-size="11.16" fill="#222">4.4</text>
<text transform="translate(592.80,323.88) rotate(-90) scale(1.039,1)" font-size="12.57" fill="#222">1.05</text>
<text transform="translate(626.30,314.20) scale(1.203,1)" font-size="11.71" fill="#222">2-</text>
<text transform="translate(652.15,314.20) scale(1.184,1)" font-size="11.71" fill="#222">0.9</text>
<text transform="translate(674.18,314.20) scale(1.270,1)" font-size="11.71" fill="#222">1.6</text>
<text transform="translate(268.60,388.50) scale(1.067,1)" font-size="13.10" fill="#222">Circuit Diagram</text>
<text transform="translate(266.68,404.60) scale(0.854,1)" font-size="11.30" fill="#222">1</text>
<text transform="translate(265.43,424.80) scale(1.173,1)" font-size="11.43" fill="#222">2</text>
<text transform="translate(265.58,444.60) scale(1.165,1)" font-size="11.14" fill="#222">3</text>
<text transform="translate(365.56,404.60) scale(1.069,1)" font-size="11.30" fill="#222">4</text>
<text transform="translate(365.61,424.80) scale(1.053,1)" font-size="11.59" fill="#222">5</text>
<text transform="translate(365.48,444.80) scale(1.091,1)" font-size="11.43" fill="#222">6</text>
</g>
</svg>
</body></html>
